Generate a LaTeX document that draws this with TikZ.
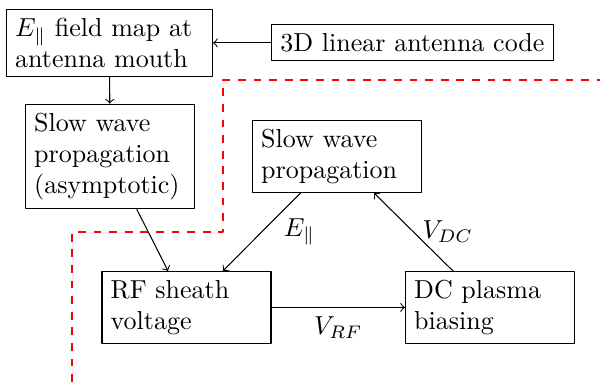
\documentclass[tikz,border=0pt]{standalone}
\usetikzlibrary{positioning}
\begin{document}
\begin{tikzpicture}[line cap=round, line join=round]
\tikzset{box/.style={draw, align=left, text width=2.05cm},
	grens/.style={red, thick, dashed, line cap=butt}}
\useasboundingbox (0,0) rectangle (8.11,-5.163);
\node[box, text width=2.55cm] (map) at (1.48,-0.58) {$E_\parallel$ field map at\\antenna mouth};
\node[draw] (code) at (5.575,-0.58) {3D linear antenna code};
\node[box] (asym) at (1.487,-2.115) {Slow wave\\propagation\\(asymptotic)};
\node[box] (slow) at (4.555,-2.115) {Slow wave\\propagation};
\node[box] (sheath) at (2.521,-4.156) {RF sheath\\voltage};
\node[box] (bias) at (6.623,-4.156) {DC plasma\\biasing};
\draw[->] (code) -- (map);
\draw[->] (map) -- (asym);
\draw[->] (asym) -- (sheath);
\draw[->] (slow) -- node[right=5pt] {$E_\parallel$} (sheath);
\draw[->] (sheath) -- node[below] {$V_{RF}$} (bias);
\draw[->] (bias) -- node[right] {$V_{DC}$} (slow);
\draw[grens] (0.973,-5.163) -- (0.973,-3.136) -- (3.014,-3.136) -- (3.014,-1.081) -- (8.11,-1.081);
\end{tikzpicture}
\end{document}
